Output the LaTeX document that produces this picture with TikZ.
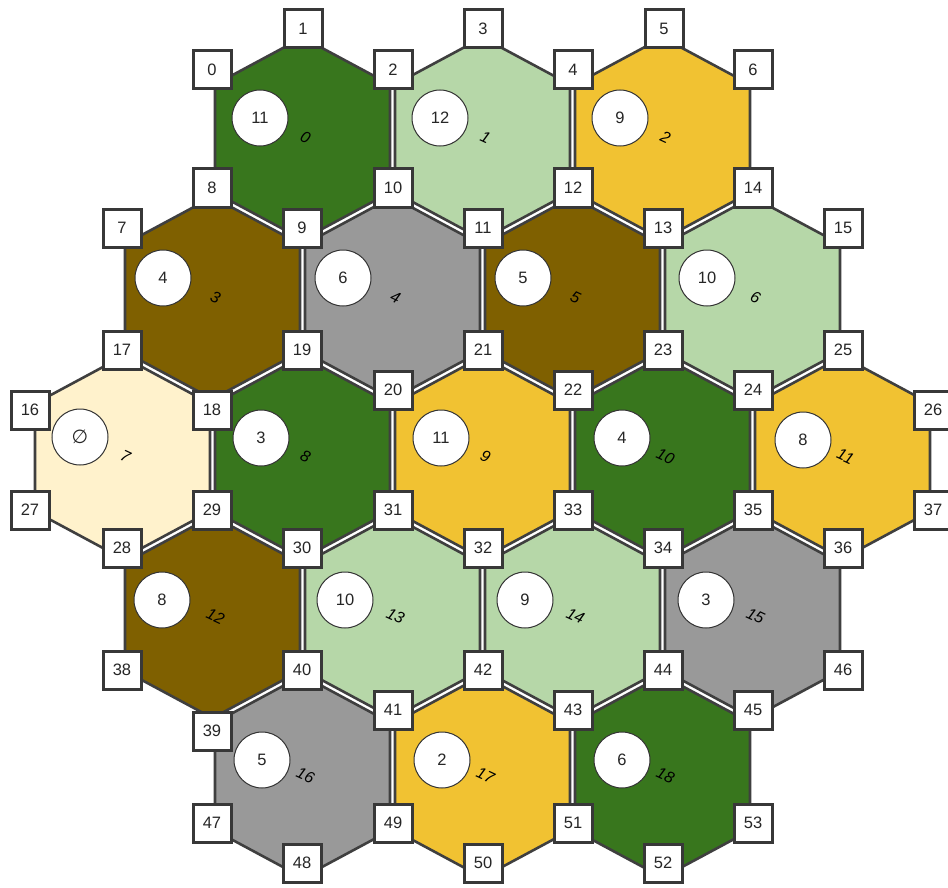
\documentclass[tikz,border=0pt]{standalone}
\usepackage{fontspec}
\setmainfont{Liberation Sans}
\newfontfamily\symfont{DejaVu Sans}
\definecolor{dkgreen}{HTML}{38761D}
\definecolor{ltgreen}{HTML}{B6D7A8}
\definecolor{gold}{HTML}{F1C232}
\definecolor{brown}{HTML}{7F6000}
\definecolor{stone}{HTML}{999999}
\definecolor{cream}{HTML}{FFF2CC}
\definecolor{edgegray}{HTML}{3F3F3F}
\definecolor{boxgray}{HTML}{383838}
\begin{document}
\begin{tikzpicture}[x=1pt,y=-1pt,
  tileedge/.style={draw=edgegray, line width=2.6pt},
  vbox/.style={draw=boxgray, line width=3pt, fill=white, minimum size=38pt, inner sep=0pt, font=\fontsize{16.5}{16.5}\selectfont, text=black!85},
  numcirc/.style={circle, draw=black!80, line width=1pt, fill=white, minimum size=56pt, inner sep=0pt, font=\fontsize{16.5}{16.5}\selectfont, text=black!85},
  tlabel/.style={font=\fontsize{16}{16}\selectfont\itshape, rotate=-25, inner sep=0pt, text=black}]
\useasboundingbox (0,0) rectangle (948,888);
\clip (0,0) rectangle (948,888);
\fill[white] (0,0) rectangle (948,888);
% tiles: id / cx / cy / colour / number / circle x / circle y
\foreach \i/\cx/\cy/\col/\num/\nx/\ny in {
  0/302.5/138.5/dkgreen/11/260/118,
  1/482.5/138.5/ltgreen/12/440/118,
  2/662.5/138.5/gold/9/620/118,
  3/212.5/298/brown/4/163/278,
  4/392.5/298/stone/6/343/278,
  5/572.5/298/brown/5/523/278,
  6/752.5/298/ltgreen/10/707/278,
  7/122.5/457.5/cream/{\symfont\fontsize{19}{19}\selectfont ∅}/80/437,
  8/302.5/457.5/dkgreen/3/261/438,
  9/482.5/457.5/gold/11/441/438,
  10/662.5/457.5/dkgreen/4/622/438,
  11/842.5/457.5/gold/8/803/440,
  12/212.5/617/brown/8/162/600,
  13/392.5/617/ltgreen/10/345/600,
  14/572.5/617/ltgreen/9/525/600,
  15/752.5/617/stone/3/706/600,
  16/302.5/776.5/stone/5/262/760,
  17/482.5/776.5/gold/2/442/760,
  18/662.5/776.5/dkgreen/6/622/760}{
  \draw[tileedge, fill=\col] (\cx,\cy) ++(0,-101) -- ++(87.5,47) -- ++(0,108) -- ++(-87.5,47) -- ++(-87.5,-47) -- ++(0,-108) -- cycle;
  \node[numcirc] (c\i) at (\nx,\ny) {\num};
  \node[tlabel] (l\i) at ([shift={(3,-1)}]\cx,\cy) {\i};
}
% vertex boxes
\foreach \v/\vx/\vy in {
  0/212/70, 1/303/29, 2/393/70, 3/483/29, 4/573/70, 5/664/29, 6/753/70,
  7/122/228, 8/212/188, 9/302/228, 10/393/188, 11/483/228, 12/573/188, 13/663/228, 14/753/188, 15/843/228,
  16/30/410, 17/122/350, 18/212/410, 19/302/350, 20/393/390, 21/483/350, 22/573/390, 23/663/350, 24/753/390, 25/843/350, 26/933/410,
  27/30/510, 28/122/548, 29/212/510, 30/302/548, 31/393/510, 32/483/548, 33/573/510, 34/663/548, 35/753/510, 36/843/548, 37/933/510,
  38/122/670, 39/212/731, 40/302/670, 41/393/710, 42/483/670, 43/573/710, 44/663/670, 45/753/710, 46/843/670,
  47/212/823, 48/302/863, 49/393/823, 50/483/863, 51/573/823, 52/663/863, 53/753/823}{
  \node[vbox] (v\v) at (\vx,\vy) {\v};
}
\end{tikzpicture}
\end{document}
